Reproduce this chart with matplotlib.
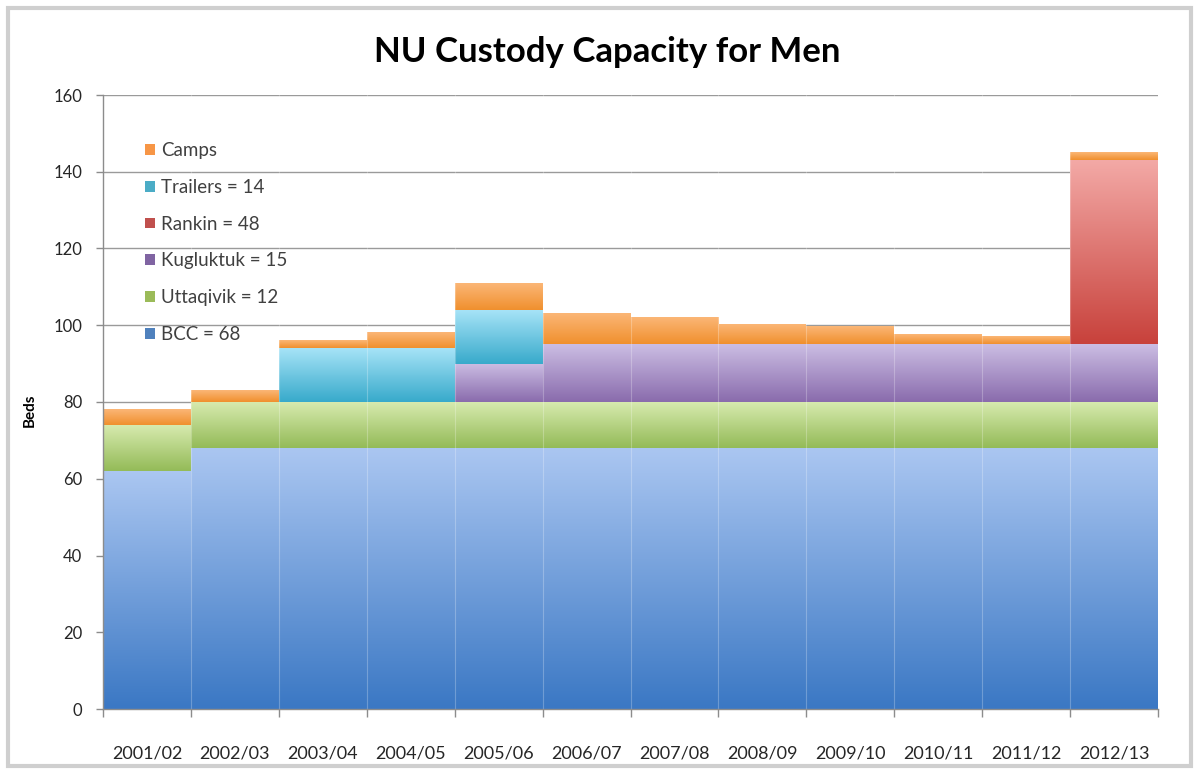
import matplotlib
matplotlib.use("Agg")
import matplotlib.pyplot as plt
import numpy as np
from matplotlib.colors import to_rgb
from matplotlib.patches import Patch, Rectangle

years = ["2001/02", "2002/03", "2003/04", "2004/05", "2005/06", "2006/07",
         "2007/08", "2008/09", "2009/10", "2010/11", "2011/12", "2012/13"]
bcc = [62, 68, 68, 68, 68, 68, 68, 68, 68, 68, 68, 68]
uttaqivik = [12, 12, 12, 12, 12, 12, 12, 12, 12, 12, 12, 12]
kugluktuk = [0, 0, 0, 0, 10, 15, 15, 15, 15, 15, 15, 15]
rankin = [0, 0, 0, 0, 0, 0, 0, 0, 0, 0, 0, 48]
trailers = [0, 0, 14, 14, 14, 0, 0, 0, 0, 0, 0, 0]
camps = [4, 3, 2, 4, 7, 8, 7, 5, 4.5, 2.5, 2, 2]

series = [
    ("BCC = 68", bcc, "#aac6f1", "#3b78c4", "#4f81bd"),
    ("Uttaqivik = 12", uttaqivik, "#d8ebb0", "#94bb58", "#9bbb59"),
    ("Kugluktuk = 15", kugluktuk, "#cbbde3", "#8a6cad", "#8064a2"),
    ("Rankin = 48", rankin, "#f3a9a6", "#c8423c", "#c0504d"),
    ("Trailers = 14", trailers, "#a6e3f7", "#38aacb", "#4bacc6"),
    ("Camps", camps, "#fbb676", "#f0902e", "#f79646"),
]

W, H = 1200, 769
fig = plt.figure(figsize=(W / 100, H / 100), dpi=100)
fig.patch.set_facecolor("white")
ax = fig.add_axes([103 / W, 1 - 709 / H, (1158 - 103) / W, (709 - 95) / H])

font = "Lato"
x = np.arange(len(years))
bottom = np.zeros(len(years))
handles = []
for label, vals, ctop, cbot, cleg in series:
    vals = np.array(vals, dtype=float)
    bars = ax.bar(x, vals, width=1.0, bottom=bottom, color=cleg, linewidth=0, zorder=2)
    t = np.array(to_rgb(ctop))
    b = np.array(to_rgb(cbot))
    grad = np.linspace(0, 1, 64)[:, None]
    img = (b[None, :] * (1 - grad) + t[None, :] * grad)[:, None, :]
    for rect, v in zip(bars.patches, vals):
        if v <= 0:
            continue
        x0 = rect.get_x()
        y0 = rect.get_y()
        ax.imshow(img, extent=[x0, x0 + rect.get_width(), y0, y0 + rect.get_height()],
                  origin="lower", aspect="auto", interpolation="bilinear", zorder=3)
    bottom = bottom + vals
    handles.append(Patch(facecolor=cleg, edgecolor="none", label=label))

# faint separators between categories
for b in np.arange(0.5, len(years) - 1, 1.0):
    ax.axvline(b, color="white", alpha=0.25, lw=0.8, zorder=4)

ax.set_xlim(-0.5, len(years) - 0.5)
ax.set_ylim(0, 160)
ax.set_yticks(np.arange(0, 161, 20))
ax.grid(axis="y", color="#9a9a9a", lw=1.0, zorder=0)
ax.set_axisbelow(True)

for s in ["top", "right"]:
    ax.spines[s].set_visible(False)
for s in ["left", "bottom"]:
    ax.spines[s].set_color("#8c8c8c")
    ax.spines[s].set_linewidth(1.0)
    ax.spines[s].set_zorder(5)

ax.set_xticks(x)
ax.set_xticklabels(years, fontsize=13, color="#262626", fontfamily=font)
ax.tick_params(axis="x", which="major", length=0, pad=26)
ax.set_xticks(np.arange(-0.5, len(years), 1.0), minor=True)
ax.tick_params(axis="x", which="minor", length=6, color="#8c8c8c", width=1)
ax.tick_params(axis="y", length=5, color="#8c8c8c", width=1, labelsize=12,
               labelcolor="#262626", pad=10)
for lab in ax.get_yticklabels():
    lab.set_fontfamily(font)

fig.text(30 / W, 1 - 410 / H, "Beds", rotation=90, ha="center", va="center",
         fontsize=11, fontweight="bold", fontfamily=font, color="black")

fig.text(607 / W, 1 - 52 / H, "NU Custody Capacity for Men", ha="center", va="center",
         fontsize=25, fontweight="bold", fontfamily=font, color="black")

leg = ax.legend(handles=handles[::-1], loc="upper left", bbox_to_anchor=(0.033, 0.935),
                frameon=False, fontsize=13.5, handlelength=0.5, handleheight=0.5,
                handletextpad=0.35, labelspacing=1.05, borderaxespad=0)
for t in leg.get_texts():
    t.set_fontfamily(font)
    t.set_color("#404040")

# outer frame
fig.patches.append(Rectangle((8 / W, 1 - 766 / H), (1191 - 8) / W, (766 - 8) / H,
                             transform=fig.transFigure, fill=False,
                             edgecolor="#cfcfcf", lw=3))

fig.savefig("out.png", dpi=100)
